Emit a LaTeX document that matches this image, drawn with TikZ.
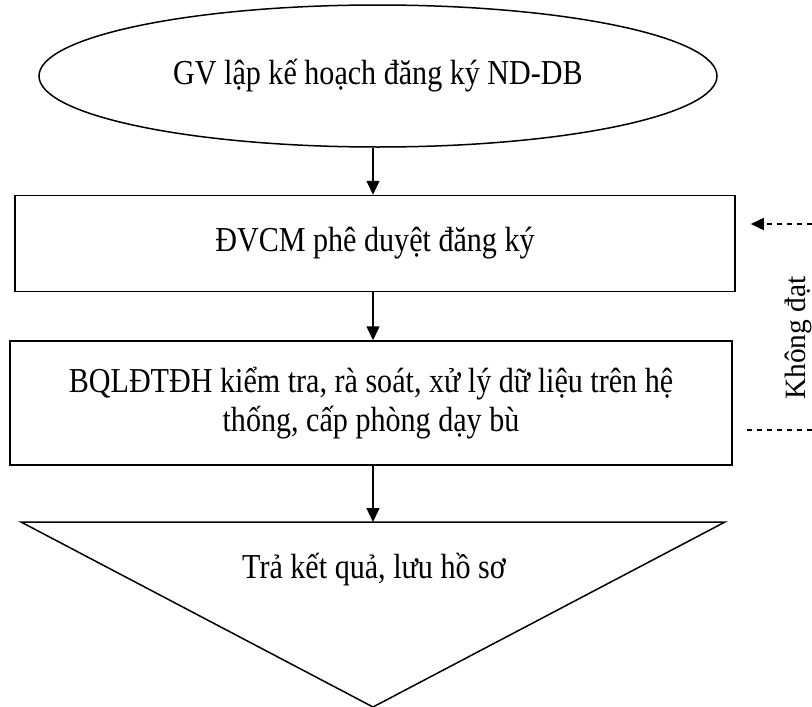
\documentclass[tikz,border=0pt]{standalone}
\usepackage{fontspec}
\setmainfont{Liberation Serif}[FakeStretch=0.86]
\newfontfamily\plainserif{Liberation Serif}
\usetikzlibrary{arrows.meta,shapes.geometric,calc}

\tikzset{
  line/.style={draw=black, line width=1.5pt},
  txt/.style={font=\fontsize{35}{39}\selectfont, align=center},
  sidetxt/.style={font=\plainserif\fontsize{29.5}{32}\selectfont},
  arr/.style={line width=1.5pt, -{Triangle[length=14pt,width=13pt]}},
  dasharr/.style={line width=1.5pt, dash pattern=on 5.5pt off 4.5pt, -{Triangle[length=13pt,width=12pt]}},
  dashline/.style={line width=1.5pt, dash pattern=on 5.5pt off 4.5pt},
  stepbox/.style={line, txt, rectangle, inner sep=0pt},
}

\begin{document}
\begin{tikzpicture}[x=1pt, y=-1pt]
  \useasboundingbox (0,0) rectangle (812,707);

  % main flow axis
  \coordinate (ax) at (373,0);

  % start: teacher plans the make-up schedule
  \node[line, txt, ellipse, inner sep=0pt, minimum width=678pt, minimum height=142pt]
    (ell) at (378,76) {GV lập kế hoạch đăng ký ND-DB};

  % approval by the department
  \node[stepbox, minimum width=720pt, minimum height=96pt]
    (box1) at (375,243.5) {ĐVCM phê duyệt đăng ký};

  % checking by the training board
  \node[stepbox, minimum width=722pt, minimum height=124pt]
    (box2) at (371,403) {BQLĐTĐH kiểm tra, rà soát, xử lý dữ liệu trên hệ\\thống, cấp phòng dạy bù};

  % end: inverted triangle
  \coordinate (tl) at (21,522);
  \coordinate (tr) at (725,522);
  \coordinate (tb) at (373,707);
  \draw[line, line join=miter] (tl) -- (tr) -- (tb) -- cycle;
  \node[txt] (res) at (374,570) {Trả kết quả, lưu hồ sơ};

  % flow arrows
  \draw[arr] (ell.south -| ax) -- (box1.north -| ax);
  \draw[arr] (box1.south -| ax) -- (box2.north -| ax);
  \draw[arr] (box2.south -| ax) -- (tl -| ax);

  % rejection loop on the right
  \coordinate (fbin) at (812,224);
  \coordinate (fbout) at (812,430);
  \draw[dasharr, shorten >=15pt] (fbin) -- (fbin -| box1.east);
  \draw[dashline, shorten >=10pt] (fbout) -- (fbout -| box2.east);
  \node[sidetxt, rotate=90] (kd) at (798,338) {Không đạt};
\end{tikzpicture}
\end{document}
